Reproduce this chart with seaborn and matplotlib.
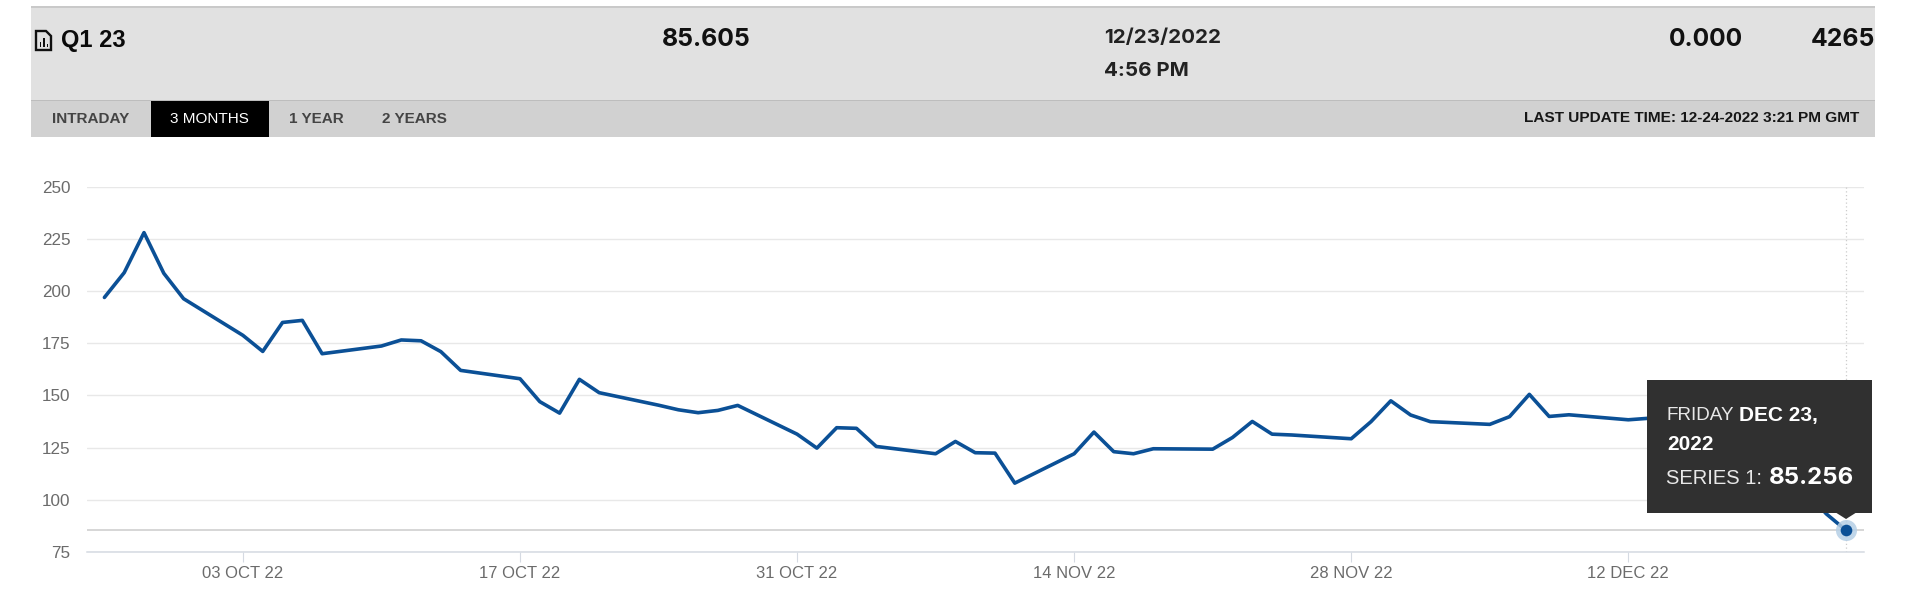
import pandas as pd
import seaborn as sns
import matplotlib.pyplot as plt
from matplotlib.patches import Rectangle, Polygon

# ===============================
# DATA
# ===============================
DATES = [
    "2022-09-26", "2022-09-27", "2022-09-28", "2022-09-29", "2022-09-30",
    "2022-10-03", "2022-10-04", "2022-10-05", "2022-10-06", "2022-10-07",
    "2022-10-10", "2022-10-11", "2022-10-12", "2022-10-13", "2022-10-14",
    "2022-10-17", "2022-10-18", "2022-10-19", "2022-10-20", "2022-10-21",
    "2022-10-24", "2022-10-25", "2022-10-26", "2022-10-27", "2022-10-28",
    "2022-10-31", "2022-11-01", "2022-11-02", "2022-11-03", "2022-11-04",
    "2022-11-07", "2022-11-08", "2022-11-09", "2022-11-10", "2022-11-11",
    "2022-11-14", "2022-11-15", "2022-11-16", "2022-11-17", "2022-11-18",
    "2022-11-21", "2022-11-22", "2022-11-23", "2022-11-24", "2022-11-25",
    "2022-11-28", "2022-11-29", "2022-11-30", "2022-12-01", "2022-12-02",
    "2022-12-05", "2022-12-06", "2022-12-07", "2022-12-08", "2022-12-09",
    "2022-12-12", "2022-12-13", "2022-12-14", "2022-12-15", "2022-12-16",
    "2022-12-19", "2022-12-20", "2022-12-21", "2022-12-22", "2022-12-23",
]
VALUES = [
    197.0, 208.9, 228.1, 208.6, 196.4,
    178.8, 171.1, 185.0, 186.0, 170.0,
    173.7, 176.6, 176.2, 171.0, 162.0,
    158.0, 147.0, 141.5, 157.7, 151.3,
    145.3, 143.1, 141.7, 142.8, 145.2,
    131.4, 124.7, 134.5, 134.2, 125.5,
    122.0, 127.9, 122.5, 122.3, 107.9,
    122.0, 132.4, 123.0, 122.0, 124.4,
    124.2, 129.8, 137.5, 131.4, 131.0,
    129.2, 137.4, 147.4, 140.6, 137.4,
    136.1, 139.8, 150.5, 139.9, 140.7,
    138.3, 139.0, 141.0, 139.0, 135.0,
    128.0, 118.0, 104.0, 93.2, 85.256,
]
Y_TICKS = [75, 100, 125, 150, 175, 200, 225, 250]
X_TICKS = ["2022-10-03", "2022-10-17", "2022-10-31", "2022-11-14", "2022-11-28", "2022-12-12"]
X_LABELS = ["03 OCT 22", "17 OCT 22", "31 OCT 22", "14 NOV 22", "28 NOV 22", "12 DEC 22"]

TABS = ["INTRADAY", "3 MONTHS", "1 YEAR", "2 YEARS"]

W, H = 1920, 594
LINE_COLOR = "#0B5096"
TICK_COLOR = "#6B6B6B"

sns.set_theme(style="white")
plt.rcParams['font.family'] = ['Liberation Sans', 'DejaVu Sans']

df = pd.DataFrame({"date": pd.to_datetime(DATES), "value": VALUES})

fig = plt.figure(figsize=(W / 100, H / 100), dpi=100, facecolor="white")

# ===============================
# CHART
# ===============================
left, right, top, bottom = 87, 1864, 187, 551.7
ax = fig.add_axes([left / W, 1 - bottom / H, (right - left) / W, (bottom - top) / H])

sns.lineplot(data=df, x="date", y="value", ax=ax, color=LINE_COLOR, linewidth=2.6,
             errorbar=None, zorder=4)

last = df.iloc[-1]
ax.axhline(last["value"], color="#CCCCCC", linewidth=1.1, zorder=2)
ax.axvline(last["date"], color="#CCCCCC", linewidth=0.9, linestyle=(0, (1, 2)), zorder=2)
sns.scatterplot(x=[last["date"]], y=[last["value"]], ax=ax, s=230, color="#B5CFE6",
                linewidth=0, alpha=0.85, zorder=5, legend=False)
sns.scatterplot(x=[last["date"]], y=[last["value"]], ax=ax, s=70, color=LINE_COLOR,
                linewidth=0, zorder=6, legend=False)

ax.set_ylim(75, 250)
ax.set_xlim(df["date"].iloc[0] - pd.Timedelta(days=0.88), last["date"] + pd.Timedelta(days=0.91))
ax.set_yticks(Y_TICKS)
ax.set_xticks(pd.to_datetime(X_TICKS))
ax.set_xticklabels(X_LABELS)
ax.set_xlabel("")
ax.set_ylabel("")
ax.grid(axis="y", color="#E8E8E8", linewidth=1)
ax.grid(axis="x", visible=False)
ax.set_axisbelow(True)
for side in ["top", "left", "right"]:
    ax.spines[side].set_visible(False)
ax.spines["bottom"].set_color("#D5DAE2")
ax.spines["bottom"].set_linewidth(1.1)
ax.tick_params(axis="y", length=0, pad=12, labelsize=12.3, labelcolor=TICK_COLOR)
ax.tick_params(axis="x", length=7, width=0.8, color="#D5DAE2", pad=3,
               labelsize=12, labelcolor=TICK_COLOR, bottom=True)

# ===============================
# HEADER + TOOLTIP (pixel coords)
# ===============================
ov = fig.add_axes([0, 0, 1, 1], zorder=10)
ov.set_xlim(0, W)
ov.set_ylim(H, 0)
ov.axis("off")
ov.patch.set_alpha(0)

ov.add_patch(Rectangle((31, 7), 1844, 93.5, color="#E1E1E1", linewidth=0))
ov.add_patch(Rectangle((31, 6), 1844, 1.6, color="#C9C9C9", linewidth=0))
ov.add_patch(Rectangle((31, 100.5), 1844, 36, color="#D1D1D1", linewidth=0))
ov.add_patch(Rectangle((31, 100), 1844, 1.2, color="#BDBDBD", linewidth=0))
ov.add_patch(Rectangle((150.6, 101), 118.8, 35.5, color="#000000", linewidth=0))

# file icon
ov.add_patch(Polygon([(36, 31), (46, 31), (51, 36), (51, 50), (36, 50)], closed=True,
                     facecolor="none", edgecolor="#111111", linewidth=1.7))
for bx, bh in [(39.5, 5), (43, 9), (46.5, 3)]:
    ov.add_patch(Rectangle((bx, 47 - bh), 1.8, bh, color="#111111", linewidth=0))

big = dict(family=["Inter", "Liberation Sans"], fontweight="bold", va="center")
ov.text(61, 40, "Q1 23", fontsize=17, fontweight="bold", color="#0A0A0A", va="center")
ov.text(662, 40, "85.605", fontsize=17.8, color="#111111", **big)
ov.text(1104, 38, "12/23/2022", fontsize=14.8, color="#222222", **big)
ov.text(1104, 71, "4:56 PM", fontsize=14.8, color="#222222", **big)
ov.text(1669, 40, "0.000", fontsize=17.6, color="#111111", **big)
ov.text(1875, 40, "4265", fontsize=17.8, color="#111111", ha="right", **big)

tab_x = [52, 170, 289, 382]
tab_colors = ["#444444", "#FFFFFF", "#444444", "#444444"]
tab_weights = ["bold", "normal", "bold", "bold"]
for tx, tab, tc, tw in zip(tab_x, TABS, tab_colors, tab_weights):
    ov.text(tx, 119, tab, fontsize=11, color=tc, fontweight=tw, va="center")
ov.text(1859, 118, "LAST UPDATE TIME: 12-24-2022 3:21 PM GMT", fontsize=11.1,
        fontweight="bold", color="#161616", va="center", ha="right")

# tooltip
ov.add_patch(Rectangle((1647.3, 380.3), 225, 132.4, color="#303030", linewidth=0))
ov.add_patch(Polygon([(1836, 512.7), (1856, 512.7), (1846, 519)], closed=True,
                     color="#303030", linewidth=0))
ov.text(1666, 415, "FRIDAY", fontsize=13.6, color="#E8E8E8", va="center")
ov.text(1739, 415, "DEC 23,", fontsize=15, fontweight="bold", color="white", va="center")
ov.text(1667, 445, "2022", fontsize=15, fontweight="bold", color="white", va="center")
ov.text(1666, 478, "SERIES 1:", fontsize=14.5, color="#E8E8E8", va="center")
ov.text(1769, 478, "85.256", fontsize=17.3, color="white", **big)

fig.savefig("out.png", dpi=100)
